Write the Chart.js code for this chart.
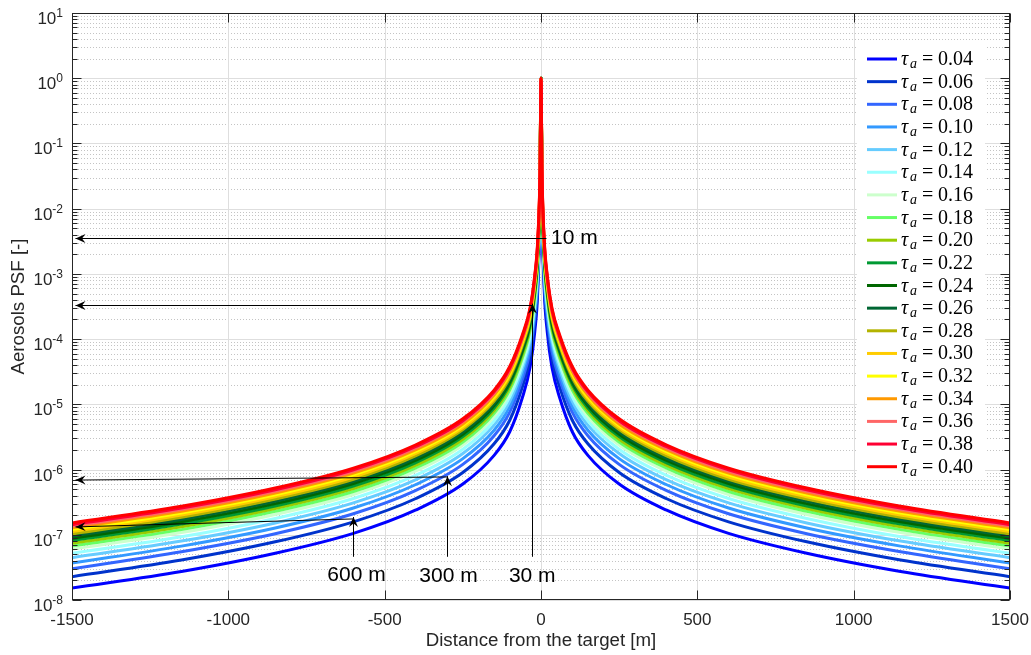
<!DOCTYPE html>
<html>
<head>
<meta charset="utf-8">
<script src="https://cdn.jsdelivr.net/npm/chart.js@4.4.0/dist/chart.umd.min.js"></script>
<style>
  body { margin: 0; background: #fff; }
  canvas { display: block; }
</style>
</head>
<body>
<canvas id="psfChart" width="1031" height="655"></canvas>
<script>
// distances from the target [m], one side only (curves are symmetric)
const distances = [0, 3, 10, 20, 35, 60, 100, 150, 250, 400, 600, 850, 1150, 1500];

const tauValues = ['0.04', '0.06', '0.08', '0.10', '0.12', '0.14', '0.16', '0.18', '0.20', '0.22',
                   '0.24', '0.26', '0.28', '0.30', '0.32', '0.34', '0.36', '0.38', '0.40'];

// PSF values, same order as distances
const psf004 = [1, 1.55e-2, 6.2e-4, 1.29e-4, 3.7e-5, 1.25e-5, 3.8e-6, 1.65e-6, 6.0e-7, 2.4e-7, 1.05e-7, 5.2e-8, 2.73e-8, 1.52e-8];
const psf006 = [1, 1.7e-2, 7.8e-4, 1.75e-4, 5.1e-5, 1.83e-5, 5.7e-6, 2.48e-6, 9.0e-7, 3.6e-7, 1.58e-7, 7.8e-8, 4.1e-8, 2.28e-8];
const psf008 = [1, 1.85e-2, 9.5e-4, 2.2e-4, 6.6e-5, 2.39e-5, 7.6e-6, 3.3e-6, 1.2e-6, 4.8e-7, 2.1e-7, 1.04e-7, 5.5e-8, 3.0e-8];
const psf010 = [1, 1.98e-2, 1.1e-3, 2.61e-4, 7.9e-5, 2.9e-5, 9.3e-6, 4.0e-6, 1.47e-6, 5.9e-7, 2.57e-7, 1.27e-7, 6.7e-8, 3.7e-8];
const psf012 = [1, 2.12e-2, 1.26e-3, 3.05e-4, 9.3e-5, 3.45e-5, 1.11e-5, 4.8e-6, 1.76e-6, 7.0e-7, 3.08e-7, 1.52e-7, 8.0e-8, 4.45e-8];
const psf014 = [1, 2.27e-2, 1.42e-3, 3.5e-4, 1.07e-4, 4.0e-5, 1.3e-5, 5.6e-6, 2.05e-6, 8.2e-7, 3.6e-7, 1.78e-7, 9.3e-8, 5.2e-8];
const psf016 = [1, 2.42e-2, 1.6e-3, 3.98e-4, 1.23e-4, 4.6e-5, 1.5e-5, 6.5e-6, 2.37e-6, 9.5e-7, 4.15e-7, 2.05e-7, 1.08e-7, 6.0e-8];
const psf018 = [1, 2.55e-2, 1.75e-3, 4.4e-4, 1.36e-4, 5.1e-5, 1.67e-5, 7.3e-6, 2.64e-6, 1.06e-6, 4.6e-7, 2.29e-7, 1.2e-7, 6.7e-8];
const psf020 = [1, 2.69e-2, 1.9e-3, 4.8e-4, 1.5e-4, 5.7e-5, 1.85e-5, 8.0e-6, 2.92e-6, 1.17e-6, 5.1e-7, 2.53e-7, 1.33e-7, 7.4e-8];
const psf022 = [1, 2.83e-2, 2.05e-3, 5.2e-4, 1.64e-4, 6.2e-5, 2.03e-5, 8.8e-6, 3.2e-6, 1.28e-6, 5.6e-7, 2.77e-7, 1.46e-7, 8.1e-8];
const psf024 = [1, 2.97e-2, 2.21e-3, 5.7e-4, 1.77e-4, 6.7e-5, 2.2e-5, 9.6e-6, 3.48e-6, 1.39e-6, 6.1e-7, 3.0e-7, 1.58e-7, 8.8e-8];
const psf026 = [1, 3.1e-2, 2.36e-3, 6.1e-4, 1.9e-4, 7.2e-5, 2.38e-5, 1.03e-5, 3.75e-6, 1.5e-6, 6.6e-7, 3.25e-7, 1.71e-7, 9.5e-8];
const psf028 = [1, 3.26e-2, 2.54e-3, 6.6e-4, 2.06e-4, 7.9e-5, 2.58e-5, 1.12e-5, 4.1e-6, 1.63e-6, 7.1e-7, 3.54e-7, 1.86e-7, 1.03e-7];
const psf030 = [1, 3.43e-2, 2.73e-3, 7.1e-4, 2.23e-4, 8.5e-5, 2.8e-5, 1.22e-5, 4.4e-6, 1.77e-6, 7.7e-7, 3.83e-7, 2.01e-7, 1.12e-7];
const psf032 = [1, 3.58e-2, 2.9e-3, 7.6e-4, 2.39e-4, 9.1e-5, 3.0e-5, 1.3e-5, 4.74e-6, 1.9e-6, 8.3e-7, 4.1e-7, 2.16e-7, 1.2e-7];
const psf034 = [1, 3.73e-2, 3.07e-3, 8.0e-4, 2.53e-4, 9.7e-5, 3.19e-5, 1.39e-5, 5.0e-6, 2.02e-6, 8.8e-7, 4.37e-7, 2.29e-7, 1.28e-7];
const psf036 = [1, 3.89e-2, 3.25e-3, 8.5e-4, 2.69e-4, 1.03e-4, 3.4e-5, 1.48e-5, 5.4e-6, 2.15e-6, 9.4e-7, 4.65e-7, 2.44e-7, 1.36e-7];
const psf038 = [1, 4.02e-2, 3.4e-3, 8.9e-4, 2.83e-4, 1.08e-4, 3.57e-5, 1.55e-5, 5.6e-6, 2.26e-6, 9.9e-7, 4.9e-7, 2.57e-7, 1.43e-7];
const psf040 = [1, 4.2e-2, 3.6e-3, 9.5e-4, 3.0e-4, 1.15e-4, 3.8e-5, 1.65e-5, 6.0e-6, 2.4e-6, 1.05e-6, 5.2e-7, 2.73e-7, 1.52e-7];

const allSeries = [psf004, psf006, psf008, psf010, psf012, psf014, psf016, psf018, psf020, psf022,
                   psf024, psf026, psf028, psf030, psf032, psf034, psf036, psf038, psf040];

const lineColors = ['#0000ff', '#0033cc', '#3366ff', '#3399ff', '#66ccff', '#99ffff', '#ccffcc', '#66ff66',
                    '#99cc00', '#009933', '#006600', '#006633', '#b3b300', '#ffcc00', '#ffff00', '#ff9900',
                    '#ff6666', '#ff0033', '#ff0000'];

// axis ticks
const xTicks = [-1500, -1000, -500, 0, 500, 1000, 1500];
const yExponents = [-8, -7, -6, -5, -4, -3, -2, -1, 0, 1];

// annotation arrows [xStart, yStart, xTip, yTip] in data units, head at the tip
const arrowLines = [
  [16, 3.56e-3, -1490, 3.56e-3],
  [-30, 3.35e-4, -1490, 3.35e-4],
  [-30, 4.6e-8, -30, 3.5e-4],
  [-300, 4.6e-8, -300, 7.9e-7],
  [-300, 7.7e-7, -1490, 6.9e-7],
  [-600, 4.6e-8, -600, 1.87e-7],
  [-600, 1.75e-7, -1490, 1.32e-7]
];
const noteTexts = ['10 m', '30 m', '300 m', '600 m'];
const noteX = [32, -28, -296, -590];
const noteY = [3.5e-3, 2.33e-8, 2.33e-8, 2.4e-8];

// mirror one side to get the full symmetric curve
function mirror(vals) {
  const pts = [];
  for (let i = distances.length - 1; i > 0; i--) pts.push({ x: -distances[i], y: vals[i] });
  for (let i = 0; i < distances.length; i++) pts.push({ x: distances[i], y: vals[i] });
  return pts;
}

const axisColor = '#262626';
const sansFont = '"Liberation Sans", Arial, sans-serif';
const serifFont = '"Liberation Serif", "Times New Roman", serif';

function drawArrow(ctx, x1, y1, x2, y2) {
  ctx.beginPath();
  ctx.moveTo(x1, y1);
  ctx.lineTo(x2, y2);
  ctx.stroke();
  const a = Math.atan2(y2 - y1, x2 - x1);
  ctx.save();
  ctx.translate(x2, y2);
  ctx.rotate(a);
  ctx.beginPath();
  ctx.moveTo(0, 0);
  ctx.lineTo(-10, -4.5);
  ctx.lineTo(-6.5, 0);
  ctx.lineTo(-10, 4.5);
  ctx.closePath();
  ctx.fill();
  ctx.restore();
}

const decorPlugin = {
  id: 'decor',
  beforeDraw(chart) {
    const ctx = chart.ctx;
    ctx.save();
    ctx.fillStyle = '#fff';
    ctx.fillRect(0, 0, chart.width, chart.height);
    ctx.restore();
  },
  beforeDatasetsDraw(chart) {
    const { ctx, chartArea: ca, scales: { x, y } } = chart;
    ctx.save();
    ctx.lineWidth = 1;
    // minor grid (dotted)
    ctx.strokeStyle = '#c4c4c4';
    ctx.setLineDash([1, 2]);
    yExponents.slice(0, -1).forEach(e => {
      for (let m = 2; m <= 9; m++) {
        const py = Math.round(y.getPixelForValue(m * Math.pow(10, e))) + 0.5;
        ctx.beginPath();
        ctx.moveTo(ca.left, py);
        ctx.lineTo(ca.right, py);
        ctx.stroke();
      }
    });
    // major grid
    ctx.setLineDash([]);
    ctx.strokeStyle = '#dedede';
    yExponents.forEach(e => {
      const py = Math.round(y.getPixelForValue(Math.pow(10, e))) + 0.5;
      ctx.beginPath();
      ctx.moveTo(ca.left, py);
      ctx.lineTo(ca.right, py);
      ctx.stroke();
    });
    xTicks.forEach(v => {
      const px = Math.round(x.getPixelForValue(v)) + 0.5;
      ctx.beginPath();
      ctx.moveTo(px, ca.top);
      ctx.lineTo(px, ca.bottom);
      ctx.stroke();
    });
    ctx.restore();
  },
  afterDatasetsDraw(chart) {
    const { ctx, chartArea: ca, scales: { x, y } } = chart;
    ctx.save();
    // axes box
    ctx.strokeStyle = axisColor;
    ctx.lineWidth = 1;
    const L = Math.round(ca.left) + 0.5, R = Math.round(ca.right) - 0.5;
    const T = Math.round(ca.top) + 0.5, B = Math.round(ca.bottom) - 0.5;
    ctx.strokeRect(L, T, R - L, B - T);
    // ticks, pointing inwards
    ctx.beginPath();
    xTicks.forEach(v => {
      const px = Math.round(x.getPixelForValue(v)) + 0.5;
      ctx.moveTo(px, B); ctx.lineTo(px, B - 9);
      ctx.moveTo(px, T); ctx.lineTo(px, T + 9);
    });
    yExponents.forEach((e, i) => {
      const py = Math.round(y.getPixelForValue(Math.pow(10, e))) + 0.5;
      ctx.moveTo(L, py); ctx.lineTo(L + 9, py);
      ctx.moveTo(R, py); ctx.lineTo(R - 9, py);
      if (i < yExponents.length - 1) {
        for (let m = 2; m <= 9; m++) {
          const my = Math.round(y.getPixelForValue(m * Math.pow(10, e))) + 0.5;
          ctx.moveTo(L, my); ctx.lineTo(L + 5, my);
          ctx.moveTo(R, my); ctx.lineTo(R - 5, my);
        }
      }
    });
    ctx.stroke();

    // x tick labels
    ctx.fillStyle = axisColor;
    ctx.font = '17px ' + sansFont;
    ctx.textAlign = 'center';
    ctx.textBaseline = 'alphabetic';
    xTicks.forEach(v => {
      ctx.fillText(String(v), x.getPixelForValue(v), ca.bottom + 25);
    });

    // y tick labels as 10^n
    yExponents.forEach(e => {
      const py = y.getPixelForValue(Math.pow(10, e));
      const sup = String(e);
      ctx.font = '12px ' + sansFont;
      const sw = ctx.measureText(sup).width;
      ctx.textAlign = 'left';
      ctx.fillText(sup, 63 - sw, py + 4);
      ctx.font = '17px ' + sansFont;
      ctx.textAlign = 'right';
      ctx.fillText('10', 63 - sw, py + 11);
    });

    // annotation arrows and labels
    ctx.strokeStyle = '#000';
    ctx.fillStyle = '#000';
    ctx.lineWidth = 1;
    arrowLines.forEach(a => {
      const x1 = Math.round(x.getPixelForValue(a[0])) + 0.5;
      const x2 = Math.round(x.getPixelForValue(a[2])) + 0.5;
      let y1 = y.getPixelForValue(a[1]);
      let y2 = y.getPixelForValue(a[3]);
      if (a[1] === a[3]) { y1 = y2 = Math.round(y1) + 0.5; }
      drawArrow(ctx, x1, y1, x2, y2);
    });
    ctx.font = '21px ' + sansFont;
    ctx.textBaseline = 'middle';
    noteTexts.forEach((t, i) => {
      ctx.textAlign = i === 0 ? 'left' : 'center';
      ctx.fillText(t, x.getPixelForValue(noteX[i]), y.getPixelForValue(noteY[i]));
    });

    // legend box
    const boxL = ca.right - 153, boxT = ca.top + 31, rowH = 22.65;
    ctx.fillStyle = '#fff';
    ctx.fillRect(boxL, boxT, 128, rowH * tauValues.length + 4);
    tauValues.forEach((t, i) => {
      const ry = boxT + 15 + i * rowH;
      ctx.strokeStyle = lineColors[i];
      ctx.lineWidth = 3;
      ctx.beginPath();
      ctx.moveTo(boxL + 10, ry);
      ctx.lineTo(boxL + 40, ry);
      ctx.stroke();
      ctx.fillStyle = '#000';
      ctx.textAlign = 'left';
      ctx.textBaseline = 'alphabetic';
      ctx.font = 'italic 20px ' + serifFont;
      ctx.fillText('τ', boxL + 44, ry + 6);
      ctx.font = 'italic 14px ' + serifFont;
      ctx.fillText('a', boxL + 53, ry + 9);
      ctx.font = '20px ' + serifFont;
      ctx.fillText('=', boxL + 65, ry + 6);
      ctx.fillText(t, boxL + 81, ry + 6);
    });
    ctx.restore();
  }
};

const chart = new Chart(document.getElementById('psfChart'), {
  type: 'line',
  data: {
    datasets: allSeries.map((vals, i) => ({
      label: 'τa = ' + tauValues[i],
      data: mirror(vals),
      borderColor: lineColors[i],
      backgroundColor: lineColors[i],
      borderWidth: 3,
      pointRadius: 0,
      fill: false,
      order: allSeries.length - i,
      cubicInterpolationMode: 'monotone',
      borderJoinStyle: 'round',
      borderCapStyle: 'round'
    }))
  },
  options: {
    responsive: false,
    animation: false,
    layout: { padding: { top: 13, right: 21, left: 0, bottom: 0 } },
    plugins: {
      legend: { display: false },
      tooltip: { enabled: false }
    },
    scales: {
      x: {
        type: 'linear',
        min: -1500,
        max: 1500,
        ticks: { display: false },
        grid: { display: false },
        border: { display: false },
        title: {
          display: true,
          text: 'Distance from the target [m]',
          color: axisColor,
          font: { family: sansFont, size: 18.7 },
          padding: { top: 2, bottom: 3 }
        },
        afterFit: s => { s.height = 55; }
      },
      y: {
        type: 'logarithmic',
        min: 1e-8,
        max: 10,
        ticks: { display: false },
        grid: { display: false },
        border: { display: false },
        title: {
          display: true,
          text: 'Aerosols PSF [-]',
          color: axisColor,
          font: { family: sansFont, size: 18.7 },
          padding: { top: 8, bottom: 2 }
        },
        afterFit: s => { s.width = 72; }
      }
    }
  },
  plugins: [decorPlugin]
});
</script>
</body>
</html>
